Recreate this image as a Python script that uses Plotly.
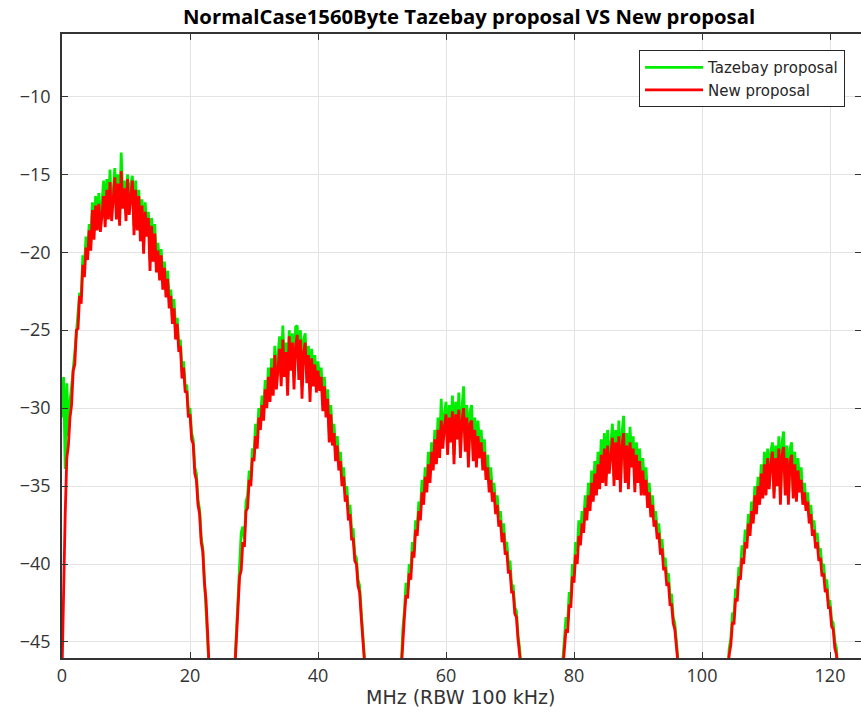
import plotly.graph_objects as go

# Frequency grid: each lobe sampled every 0.25 MHz from its start frequency (MHz)
STEP_MHZ = 0.25
lobe_start_mhz = [0.0, 27.0, 53.0, 78.0, 104.0]

# "New proposal" (red) level in dB, per lobe
red_lobe1 = [-47, -41.5, -36.8, -33.2, -32.4, -30.6, -29.8, -27.6, -27.2, -25.0, -24.9, -22.8, -23.3, -20.8,
             -21.6, -19.7, -20.5, -18.6, -19.9, -17.3, -19.2, -17.0, -18.6, -16.9, -18.7, -17.6, -16.4, -18.4,
             -16.0, -17.9, -15.5, -18.0, -16.6, -15.2, -17.9, -15.6, -18.3, -14.8, -17.2, -15.9, -18.0, -15.3,
             -17.6, -16.2, -15.4, -18.9, -16.0, -18.6, -16.4, -19.3, -17.0, -20.1, -17.4, -19.0, -17.8, -21.2,
             -18.3, -20.6, -18.8, -21.3, -19.9, -21.8, -20.2, -22.4, -21.0, -22.9, -21.7, -23.6, -22.8, -24.6,
             -23.6, -25.6, -24.6, -26.4, -26.0, -28.1, -27.4, -29.0, -28.9, -30.6, -30.4, -32.0, -32.3, -34.2,
             -34.6, -36.2, -36.8, -38.6, -39.2, -41.2, -42.3, -44.4, -46.8]
red_lobe2 = [-46.8, -44.8, -43.2, -40.8, -40.4, -38.6, -38.9, -36.6, -36.4, -34.6, -35.0, -33.2, -33.4, -31.8,
             -32.6, -30.6, -31.4, -29.8, -30.8, -28.8, -30.0, -28.0, -29.6, -27.4, -29.2, -26.6, -28.8, -27.2,
             -26.2, -28.6, -25.6, -28.0, -26.4, -29.2, -25.4, -27.6, -25.8, -28.8, -26.0, -25.3, -28.2, -25.6,
             -29.4, -26.4, -25.8, -28.4, -26.6, -29.6, -26.8, -28.6, -27.2, -29.0, -27.6, -28.9, -28.0, -30.2,
             -28.6, -30.6, -29.4, -32.2, -30.4, -32.4, -31.6, -33.4, -32.4, -34.0, -33.4, -35.0, -34.4, -36.0,
             -35.6, -37.2, -36.8, -38.4, -38.4, -39.8, -40.0, -41.4, -41.8, -43.4, -44.6, -46.2, -48.0]
red_lobe3 = [-46.8, -44.6, -43.4, -42.0, -42.2, -40.6, -41.0, -39.2, -39.6, -37.8, -38.2, -36.6, -37.2, -35.4,
             -36.2, -34.4, -35.4, -33.6, -34.8, -32.8, -34.0, -32.0, -33.6, -31.4, -33.2, -30.8, -32.6, -31.2,
             -30.4, -33.0, -30.6, -32.2, -30.2, -33.6, -30.4, -32.0, -30.1, -33.2, -30.8, -30.0, -32.8, -30.6,
             -33.8, -31.0, -30.8, -33.4, -31.4, -33.8, -31.8, -33.2, -32.2, -34.0, -32.8, -34.6, -33.8, -35.4,
             -34.6, -36.0, -35.4, -36.8, -36.2, -37.6, -37.2, -38.6, -38.0, -39.4, -39.2, -40.6, -40.4, -41.8,
             -41.8, -43.2, -43.4, -44.8, -45.6, -46.8, -48.0]
red_lobe4 = [-48.0, -46.6, -45.6, -44.2, -44.4, -42.6, -42.8, -40.8, -41.2, -39.4, -40.0, -38.2, -38.8, -37.4,
             -38.0, -36.4, -37.2, -35.6, -36.6, -34.8, -36.0, -34.2, -35.6, -33.6, -35.2, -33.0, -34.8, -32.6,
             -35.0, -32.4, -34.2, -32.8, -31.9, -35.0, -32.2, -34.6, -31.8, -35.4, -32.4, -31.6, -34.8, -32.4,
             -35.2, -32.2, -33.8, -32.6, -35.4, -33.0, -34.8, -33.4, -35.6, -34.0, -35.6, -34.6, -36.4, -35.4,
             -37.0, -36.2, -37.6, -37.2, -38.4, -38.0, -39.4, -39.0, -40.4, -40.2, -41.4, -41.2, -42.6, -42.6,
             -43.8, -44.2, -45.2, -46.4, -48.0]
red_lobe5 = [-47.2, -45.8, -45.2, -43.8, -43.8, -42.2, -42.4, -40.8, -41.0, -39.6, -40.0, -38.6, -39.0, -37.4,
             -38.2, -36.6, -37.4, -35.6, -36.8, -35.0, -36.2, -34.2, -35.8, -33.6, -35.6, -33.2, -35.2, -33.6,
             -32.8, -35.8, -33.2, -35.0, -32.6, -36.2, -33.0, -32.5, -35.6, -33.2, -36.2, -33.4, -33.0, -35.8,
             -33.6, -36.0, -34.0, -35.4, -34.6, -36.2, -35.4, -36.6, -36.0, -37.4, -36.8, -38.2, -37.8, -39.0,
             -38.6, -39.8, -39.6, -40.8, -40.6, -41.8, -41.6, -42.8, -42.8, -44.0, -44.2, -45.4, -45.8, -47.0,
             -48.5]

# "Tazebay proposal" (green) level in dB, per lobe
green_lobe1 = [-30.6, -28.0, -33.9, -28.4, -31.8, -29.6, -28.6, -27.2, -26.4, -25.2, -24.0, -22.6, -22.9, -20.2,
               -21.0, -19.0, -20.0, -18.2, -19.4, -16.8, -18.6, -16.4, -18.0, -16.2, -18.2, -17.0, -15.4, -17.8,
               -15.3, -17.4, -14.7, -17.5, -16.0, -14.6, -17.4, -15.0, -17.8, -13.6, -16.6, -15.4, -17.4, -15.0,
               -17.0, -15.6, -15.1, -18.3, -15.4, -18.0, -16.0, -18.8, -16.6, -19.4, -16.8, -18.4, -17.4, -20.5,
               -17.8, -20.0, -18.2, -20.8, -19.4, -21.2, -19.8, -21.8, -20.6, -22.4, -21.2, -23.0, -22.4, -24.2,
               -23.0, -25.0, -24.2, -26.0, -25.6, -27.6, -27.0, -28.6, -28.5, -30.2, -30.0, -31.6, -32.0, -33.8,
               -34.2, -35.9, -36.5, -38.3, -39.0, -41.0, -42.1, -44.2, -46.8]
green_lobe2 = [-46.5, -44.4, -42.6, -40.2, -38.0, -37.6, -38.4, -36.0, -35.6, -34.0, -34.6, -32.6, -32.8, -31.0,
               -31.8, -30.0, -30.8, -29.2, -30.2, -28.2, -29.4, -27.4, -29.0, -26.8, -28.6, -26.0, -28.2, -26.6,
               -25.4, -28.0, -24.7, -27.2, -25.8, -28.4, -25.0, -27.0, -25.2, -28.0, -24.8, -24.7, -27.6, -25.0,
               -28.6, -25.6, -25.2, -27.8, -26.0, -28.8, -26.2, -27.8, -26.6, -28.4, -27.0, -28.2, -27.4, -29.6,
               -28.0, -30.0, -28.8, -31.6, -29.8, -31.8, -31.0, -32.8, -31.8, -33.4, -32.8, -34.4, -33.8, -35.4,
               -35.0, -36.6, -36.2, -37.8, -37.8, -39.4, -39.6, -41.0, -41.4, -43.0, -44.3, -46.0, -48.0]
green_lobe3 = [-46.6, -44.2, -43.0, -41.2, -41.8, -40.0, -40.4, -38.6, -39.2, -37.2, -37.6, -36.0, -36.6, -34.6,
               -35.6, -33.8, -34.8, -32.8, -34.2, -32.2, -33.4, -31.4, -33.0, -30.6, -32.6, -29.4, -32.0, -30.4,
               -29.6, -32.4, -29.8, -31.6, -29.2, -33.0, -29.6, -31.4, -29.0, -32.6, -30.0, -28.6, -32.2, -29.8,
               -33.2, -30.2, -29.8, -32.8, -30.6, -33.2, -30.8, -32.6, -31.4, -33.4, -32.0, -34.0, -33.0, -34.8,
               -33.8, -35.4, -34.8, -36.2, -35.6, -37.0, -36.6, -38.0, -37.4, -38.8, -38.6, -40.0, -39.8, -41.4,
               -41.4, -42.8, -43.0, -44.6, -45.4, -46.6, -48.0]
green_lobe4 = [-47.6, -46.0, -45.0, -43.4, -43.8, -41.8, -42.2, -40.0, -40.6, -38.6, -39.2, -37.2, -38.2, -36.6,
               -37.4, -35.6, -36.6, -34.8, -36.0, -34.0, -35.4, -33.4, -35.0, -32.8, -34.6, -32.0, -34.2, -31.6,
               -34.4, -31.4, -33.6, -32.0, -31.0, -34.4, -31.4, -34.0, -30.8, -34.8, -31.6, -30.5, -34.2, -31.6,
               -34.6, -31.2, -33.2, -31.8, -34.8, -32.2, -34.2, -32.6, -35.0, -33.2, -35.0, -33.8, -35.8, -34.8,
               -36.4, -35.6, -37.0, -36.6, -37.8, -37.4, -38.8, -38.4, -39.8, -39.6, -40.8, -40.6, -42.0, -42.0,
               -43.4, -43.8, -44.8, -46.2, -48.0]
green_lobe5 = [-47.0, -45.4, -44.8, -43.2, -43.2, -41.6, -41.8, -40.2, -40.4, -38.8, -39.4, -37.8, -38.4, -36.8,
               -37.6, -36.0, -36.8, -35.0, -36.2, -34.4, -35.8, -33.6, -35.4, -32.8, -35.2, -32.6, -34.8, -32.8,
               -32.2, -35.4, -32.4, -34.6, -31.8, -35.8, -32.2, -31.5, -35.2, -32.4, -35.8, -32.6, -32.2, -35.4,
               -32.8, -35.6, -33.2, -35.0, -33.8, -35.8, -34.8, -36.0, -35.4, -36.8, -36.2, -37.6, -37.2, -38.4,
               -38.0, -39.2, -39.0, -40.2, -40.0, -41.2, -41.0, -42.4, -42.4, -43.6, -43.8, -45.0, -45.4, -46.8,
               -48.5]

x_ticks = [0, 20, 40, 60, 80, 100, 120]
y_ticks = [-45, -40, -35, -30, -25, -20, -15, -10]


def assemble(lobes):
    xs, ys = [], []
    for start, vals in zip(lobe_start_mhz, lobes):
        xs += [start + STEP_MHZ * i for i in range(len(vals))] + [None]
        ys += list(vals) + [None]
    return xs, ys


gx, gy = assemble([green_lobe1, green_lobe2, green_lobe3, green_lobe4, green_lobe5])
rx, ry = assemble([red_lobe1, red_lobe2, red_lobe3, red_lobe4, red_lobe5])

fig = go.Figure()
fig.add_trace(go.Scatter(x=gx, y=gy, mode="lines", name="Tazebay proposal",
                         line=dict(color="#00ee00", width=2.8), connectgaps=False))
fig.add_trace(go.Scatter(x=rx, y=ry, mode="lines", name="New proposal",
                         line=dict(color="#ff0000", width=2.8), connectgaps=False))

axis_common = dict(
    showline=True, linecolor="#333333", linewidth=1.5, mirror="allticks",
    ticks="inside", ticklen=6, tickcolor="#333333", tickwidth=1,
    showgrid=True, gridcolor="#e3e3e3", gridwidth=1, zeroline=False,
    tickfont=dict(family="Open Sans", size=18, color="#333333"),
    automargin=False,
)

fig.update_layout(
    width=861, height=714,
    margin=dict(l=62, r=0, t=34, b=56),
    paper_bgcolor="white", plot_bgcolor="white",
    title=dict(text="<b>NormalCase1560Byte Tazebay proposal VS New proposal</b>",
               font=dict(family="Open Sans", size=20.3, color="#000000"),
               x=469 / 861, xanchor="center", y=1 - 17 / 714, yanchor="middle",
               xref="container", yref="container"),
    xaxis=dict(range=[0, 124.84], tickvals=x_ticks, ticklabelstandoff=1, **axis_common),
    yaxis=dict(range=[-46.03, -6.0], tickvals=y_ticks, ticklabelstandoff=6, **axis_common),
    legend=dict(x=0.98, xanchor="right", y=0.974, yanchor="top",
                bgcolor="white", bordercolor="#262626", borderwidth=1,
                font=dict(family="DejaVu Sans", size=15, color="#262626"),
                tracegroupgap=0, itemwidth=58),
    showlegend=True,
    annotations=[dict(text="MHz (RBW 100 kHz)", xref="paper", yref="paper",
                      x=(460 - 62) / 799, y=(658 - 697) / 624, xanchor="center", yanchor="middle",
                      showarrow=False, font=dict(family="DejaVu Sans", size=19, color="#333333"))],
)

# Remove the default page margin so the 861x714 figure fills the window exactly
fig.write_html("out.html", config={"displayModeBar": False},
               post_script="document.body.style.margin='0';document.body.style.overflow='hidden';")
